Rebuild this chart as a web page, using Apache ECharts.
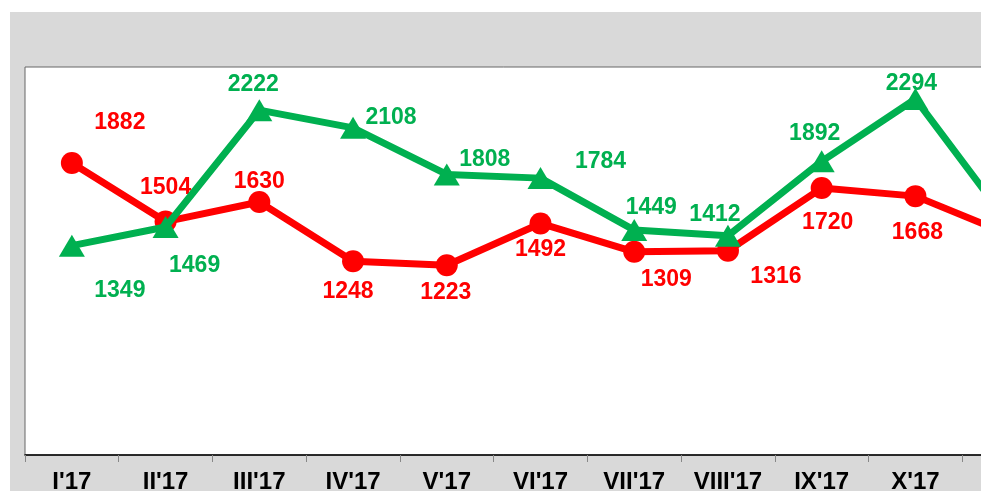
<!DOCTYPE html>
<html>
<head>
    <meta charset="utf-8">
    <title>ECharts</title>
    <script type="text/javascript" src="https://cdn.jsdelivr.net/npm/echarts@6/dist/echarts.min.js"></script>
    <style>
        html, body { margin: 0; padding: 0; background: #fff; }
    </style>
</head>
<body>
    <div id="main" style="width: 981px;height:491px;"></div>
    <script type="text/javascript">
        // months, the last one runs off the right edge
        var months = ["I'17", "II'17", "III'17", "IV'17", "V'17", "VI'17", "VII'17", "VIII'17", "IX'17", "X'17", "XI'17"];
        var redValues = [1882, 1504, 1630, 1248, 1223, 1492, 1309, 1316, 1720, 1668, 1420];
        var greenValues = [1349, 1469, 2222, 2108, 1808, 1784, 1449, 1412, 1892, 2294, 1490];

        // label offsets (dx, dy) from each point
        var redOffsets = [[48, -40], [0, -34], [0, -20], [-5, 30], [-1, 27], [0, 26], [32, 28], [48, 26], [6, 35], [2, 37], [0, 30]];
        var greenOffsets = [[48, 45], [29, 39], [-6, -25], [38, -10], [38, -15], [60, -16], [17, -22], [-13, -21], [-7, -28], [-4, -15], [0, -25]];

        function withLabels(values, offsets) {
            return values.map(function (v, i) {
                return { value: v, label: { offset: offsets[i] } };
            });
        }

        var labelStyle = {
            show: true,
            position: 'inside',
            fontFamily: 'Liberation Sans, Arial, sans-serif',
            fontWeight: 'bold',
            fontSize: 23
        };

        var option = {
            animation: false,
            backgroundColor: '#ffffff',
            graphic: [{
                type: 'rect',
                z: -10,
                shape: { x: 10, y: 12, width: 1000, height: 500 },
                style: { fill: '#d9d9d9' }
            }],
            grid: {
                show: true,
                outerBoundsMode: 'none',
                left: 25,
                top: 67,
                bottom: 36,
                right: -75,
                backgroundColor: '#ffffff',
                borderColor: '#666666',
                borderWidth: 1
            },
            xAxis: {
                type: 'category',
                data: months,
                boundaryGap: true,
                axisLine: { lineStyle: { color: '#000000', width: 1.5 } },
                axisTick: { show: true, length: 7, lineStyle: { color: '#888888' } },
                axisLabel: {
                    color: '#000000',
                    fontFamily: 'Liberation Sans, Arial, sans-serif',
                    fontWeight: 'bold',
                    fontSize: 24,
                    margin: 15
                }
            },
            yAxis: {
                type: 'value',
                min: 0,
                max: 2500,
                show: false,
                splitLine: { show: false }
            },
            series: [{
                name: 'red',
                type: 'line',
                data: withLabels(redValues, redOffsets),
                symbol: 'circle',
                symbolSize: 22,
                lineStyle: { color: '#ff0000', width: 7 },
                itemStyle: { color: '#ff0000' },
                label: Object.assign({ color: '#ff0000' }, labelStyle),
                z: 2
            }, {
                name: 'green',
                type: 'line',
                data: withLabels(greenValues, greenOffsets),
                symbol: 'triangle',
                symbolSize: [26, 22],
                lineStyle: { color: '#00b050', width: 7 },
                itemStyle: { color: '#00b050' },
                label: Object.assign({ color: '#00b050' }, labelStyle),
                z: 3
            }]
        };

        echarts.init(document.getElementById('main')).setOption(option);
    </script>
</body>
</html>
